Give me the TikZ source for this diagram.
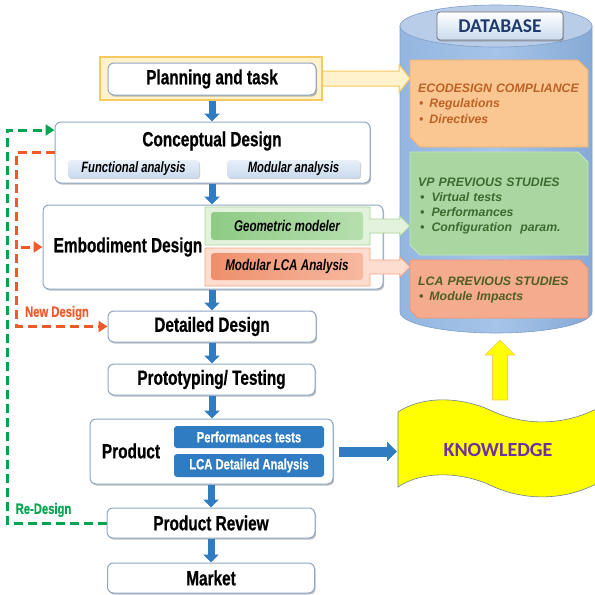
\documentclass[tikz,border=0pt]{standalone}
\usepackage{fontspec}
\setmainfont{Liberation Sans}
\newfontfamily\narrowf{Liberation Sans}[FakeStretch=0.75, BoldFeatures={FakeBold=0.6}]
\newfontfamily\calib{Carlito}
\usetikzlibrary{arrows.meta,shadows,calc}
\definecolor{boxline}{HTML}{8FA7C4}
\definecolor{yfill}{HTML}{FFF2CC}
\definecolor{yline}{HTML}{F7C95E}
\definecolor{flowblue}{HTML}{2F7CC2}
\definecolor{gdash}{HTML}{00A550}
\definecolor{rdash}{HTML}{F05A28}
\definecolor{ecofill}{HTML}{FAC792}
\definecolor{ecoline}{HTML}{F6B26B}
\definecolor{ecotext}{HTML}{BF6126}
\definecolor{vpfill}{HTML}{A9D6A1}
\definecolor{vpline}{HTML}{C8E6C0}
\definecolor{vptext}{HTML}{3D6B2E}
\definecolor{lcafill}{HTML}{F5AB8D}
\definecolor{lcaline}{HTML}{F19572}
\definecolor{lcatext}{HTML}{4F5F24}
\definecolor{geoband}{HTML}{E3F2DC}
\definecolor{geobandline}{HTML}{A8D59C}
\definecolor{geoinL}{HTML}{8FCB85}
\definecolor{geoinR}{HTML}{B6DFAE}
\definecolor{lcaband}{HTML}{FCDDD0}
\definecolor{lcabandline}{HTML}{F4A582}
\definecolor{lcainL}{HTML}{EE8F6C}
\definecolor{lcainR}{HTML}{F7B9A0}
\definecolor{subtop}{HTML}{E8F0F9}
\definecolor{subbot}{HTML}{C9DAEE}
\definecolor{kyellow}{HTML}{FFFF00}
\definecolor{kline}{HTML}{6E8296}
\definecolor{kpurple}{HTML}{7030A0}
\definecolor{dbnavy}{HTML}{1F3B6B}
\definecolor{dbL}{HTML}{93B6E0}
\definecolor{dbM}{HTML}{A6C4E8}
\definecolor{dbR}{HTML}{86AAD6}
\definecolor{dbtop}{HTML}{B9CDE8}
\definecolor{dbline}{HTML}{7E9FCB}
\begin{document}
\begin{tikzpicture}[x=1pt,y=-1pt,
  mainbox/.style={draw=boxline, fill=white, rounded corners=6pt, line width=1pt,
    drop shadow={shadow xshift=1.2pt, shadow yshift=-1.6pt, opacity=0.35, fill=black!70},
    inner sep=0pt, font=\narrowf\bfseries\fontsize{20.5}{22}\selectfont},
  bigtxt/.style={inner sep=0pt, font=\narrowf\bfseries\fontsize{20.5}{22}\selectfont},
  subbox/.style={top color=subtop, bottom color=subbot, draw=none, rounded corners=3pt,
    drop shadow={shadow xshift=1pt, shadow yshift=-1.2pt, opacity=0.3, fill=black!60},
    inner sep=0pt, font=\narrowf\bfseries\itshape\fontsize{15}{17}\selectfont},
  prodbox/.style={fill=flowblue, draw=none, rounded corners=3pt, inner sep=0pt, text=white,
    font=\narrowf\bfseries\fontsize{15}{17}\selectfont},
  dbtxt/.style={anchor=west, align=left, text width=174pt, inner xsep=8pt, inner ysep=0pt,
    font=\bfseries\itshape\fontsize{12.3}{15.3}\selectfont},
  bluearr/.style={draw=flowblue, line width=7pt, -{Triangle[width=15pt,length=8pt]}},
  gdashed/.style={draw=gdash, line width=3pt, dash pattern=on 9pt off 5pt},
  rdashed/.style={draw=rdash, line width=3pt, dash pattern=on 9pt off 5pt},
  dtip/.style={-{Triangle[width=11pt,length=9pt]}},
]
\useasboundingbox (0,0) rectangle (595,595);

% ---------------- database cylinder ----------------
\shade[left color=dbL, right color=dbR, middle color=dbM, draw=dbline, line width=0.6pt]
  (400,26) -- (400,312) arc[start angle=180, end angle=0, x radius=96, y radius=21] -- (592,26) -- cycle;
\draw[fill=dbtop, draw=dbline, line width=0.6pt] (496,26) ellipse[x radius=96, y radius=21];
\node[top color=white, bottom color=subbot, draw=black!55, line width=0.8pt, rounded corners=3pt,
  drop shadow={shadow xshift=1pt, shadow yshift=-1.5pt, opacity=0.35, fill=black!60},
  minimum width=126, minimum height=28, inner sep=0pt, text=dbnavy,
  font=\calib\bfseries\fontsize{19.5}{21}\selectfont] (dbl) at (500,26) {DATABASE};

% chamfered content boxes
\path[fill=ecofill, draw=ecoline, line width=0.8pt]
  (410,60) -- (578,60) -- (588,70) -- (588,147) -- (420,147) -- (410,137) -- cycle;
\node[dbtxt, text=ecotext] (eco) at (410,103.5)
  {ECODESIGN COMPLIANCE\\\hspace*{1pt}\textbullet\hspace{6pt}Regulations\\\hspace*{1pt}\textbullet\hspace{6pt}Directives};
\path[fill=vpfill, draw=vpline, line width=0.8pt]
  (410,152) -- (578,152) -- (588,162) -- (588,255) -- (420,255) -- (410,245) -- cycle;
\node[dbtxt, text=vptext] (vp) at (410,206)
  {VP PREVIOUS STUDIES\\\hspace*{2pt}\textbullet\hspace{7pt}Virtual tests\\\hspace*{2pt}\textbullet\hspace{7pt}Performances\\\hspace*{2pt}\textbullet\hspace{7pt}Configuration\ \ param.};
\path[fill=lcafill, draw=lcaline, line width=0.8pt]
  (410,260) -- (580,260) -- (588,268) -- (588,318) -- (418,318) -- (410,310) -- cycle;
\node[dbtxt, text=lcatext] (lcap) at (410,290)
  {LCA PREVIOUS STUDIES\\\hspace*{1pt}\textbullet\hspace{6pt}Module Impacts};

% ---------------- main flow ----------------
\node[fill=yfill, draw=yline, line width=1.2pt, minimum width=222, minimum height=43, inner sep=0pt] (planout) at (211,78.5) {};
\node[mainbox, minimum width=208, minimum height=32] (plan) at (212,79) {Planning and task};

\node[mainbox, minimum width=315, minimum height=61] (concept) at (212.5,152.5) {};
\node[bigtxt] (conceptT) at (212,141) {Conceptual Design};
\node[subbox, minimum width=131, minimum height=18] (func) at (133.5,169) {Functional analysis};
\node[subbox, minimum width=133, minimum height=18] (modu) at (293.5,169) {Modular analysis};

\node[mainbox, minimum width=340, minimum height=84] (embod) at (213,247) {};
\node[bigtxt] (embodT) at (128,247) {Embodiment Design};

% green / salmon bands with arrows to database
\path[fill=geoband, draw=geobandline, line width=0.8pt] let \p1=(287.5,226), \p2=(vp.west) in
  (205,207) -- (370,207) -- (370,219) -- (\x2-10pt,\y1+7pt) -- (\x2-10pt,\y1+10pt) -- (\x2,\y1)
  -- (\x2-10pt,\y1-10pt) -- (\x2-10pt,\y1-7pt) -- (370,233) -- (370,245) -- (205,245) -- cycle;
\node[left color=geoinL, right color=geoinR, rounded corners=3pt, minimum width=152, minimum height=28, inner sep=0pt,
  font=\narrowf\bfseries\itshape\fontsize{15.5}{17}\selectfont] (geo) at (287,226) {Geometric modeler};
\path[fill=lcaband, draw=lcabandline, line width=0.8pt] let \p1=(287.5,267), \p2=(lcap.west) in
  (205,248) -- (370,248) -- (370,260) -- (\x2-10pt,\y1+7pt) -- (\x2-10pt,\y1+10pt) -- (\x2,\y1)
  -- (\x2-10pt,\y1-10pt) -- (\x2-10pt,\y1-7pt) -- (370,274) -- (370,286) -- (205,286) -- cycle;
\node[left color=lcainL, right color=lcainR, rounded corners=3pt, minimum width=152, minimum height=27, inner sep=0pt,
  font=\narrowf\bfseries\itshape\fontsize{15.5}{17}\selectfont] (lcam) at (287,266.5) {Modular LCA Analysis};

\node[mainbox, minimum width=208, minimum height=31] (detail) at (212,326.5) {Detailed Design};
\node[mainbox, minimum width=207, minimum height=31] (proto) at (211.5,379.5) {Prototyping/ Testing};
\node[mainbox, minimum width=243, minimum height=65] (product) at (211.5,451.5) {};
\node[bigtxt] (productT) at (131,451) {Product};
\node[prodbox, minimum width=150, minimum height=22] (perf) at (249,437) {Performances tests};
\node[prodbox, minimum width=150, minimum height=23] (lcad) at (249,465.5) {LCA Detailed Analysis};
\node[mainbox, minimum width=208, minimum height=30] (review) at (211,523) {Product Review};
\node[mainbox, minimum width=207, minimum height=30] (market) at (211,578) {Market};

% yellow arrow planning -> ecodesign
\path[fill=yfill, draw=yline, line width=1pt] let \p1=(planout.east), \p2=(eco.west) in
  (\x1,\y1+7.5pt) -- (\x2-11pt,\y1+7.5pt) -- (\x2-11pt,\y1+14pt) -- (\x2,\y1)
  -- (\x2-11pt,\y1-14pt) -- (\x2-11pt,\y1-7.5pt) -- (\x1,\y1-7.5pt) -- cycle;

% blue flow arrows
\draw[bluearr] (planout.south -| 212,0) -- (concept.north -| 212,0);
\draw[bluearr] (concept.south -| 212,0) -- (embod.north -| 212,0);
\draw[bluearr] (embod.south -| 212,0) -- (detail.north -| 212,0);
\draw[bluearr] (detail.south -| 212,0) -- (proto.north -| 212,0);
\draw[bluearr] (proto.south -| 212,0) -- (product.north -| 212,0);
\draw[bluearr] (product.south -| 211,0) -- (review.north -| 211,0);
\draw[bluearr] (review.south -| 211,0) -- (market.north -| 211,0);

% feedback dashed loops
\draw[gdashed, dtip] (review.west) -- (7,523) |- ([yshift=22.5pt]concept.west);
\node[text=gdash, inner sep=0pt, font=\narrowf\bfseries\fontsize{15}{17}\selectfont] (redesign) at (43.5,510) {Re-Design};
\draw[rdashed, dtip] (concept.west) -- (16,152.5) |- (detail.west);
\coordinate (nbranch) at (21,247);
\draw[rdashed, dtip] (nbranch) -- (embod.west);
\node[text=rdash, inner sep=0pt, font=\narrowf\bfseries\fontsize{15}{17}\selectfont] (newdesign) at (57,313) {New Design};

% knowledge banner
\path[fill=kyellow, draw=kline, line width=0.6pt]
  (398,412) .. controls (425,394) and (465,398) .. (492,411)
  .. controls (520,424) and (560,428) .. (598,408) -- (598,483)
  .. controls (560,503) and (520,499) .. (492,486)
  .. controls (465,473) and (425,469) .. (398,487) -- cycle;
\node[text=kpurple, inner sep=0pt, font=\calib\bfseries\fontsize{20}{22}\selectfont] (know) at (498,450) {KNOWLEDGE};
\coordinate (kin) at (397,451.5);
\draw[draw=flowblue, line width=10pt, -{Triangle[width=19pt,length=10pt]}] ([xshift=5pt]product.east) -- (kin);

% yellow up arrow knowledge -> database
\coordinate (kbase) at (500,400);
\coordinate (ktip) at (500,340);
\path[fill=kyellow, draw=yline, line width=0.6pt] let \p1=(kbase), \p2=(ktip) in
  (\x1-7.5pt,\y1) -- (\x1-7.5pt,\y2-15pt) -- (\x1-15pt,\y2-15pt) -- (\x2,\y2)
  -- (\x1+15pt,\y2-15pt) -- (\x1+7.5pt,\y2-15pt) -- (\x1+7.5pt,\y1) -- cycle;
\end{tikzpicture}
\end{document}
